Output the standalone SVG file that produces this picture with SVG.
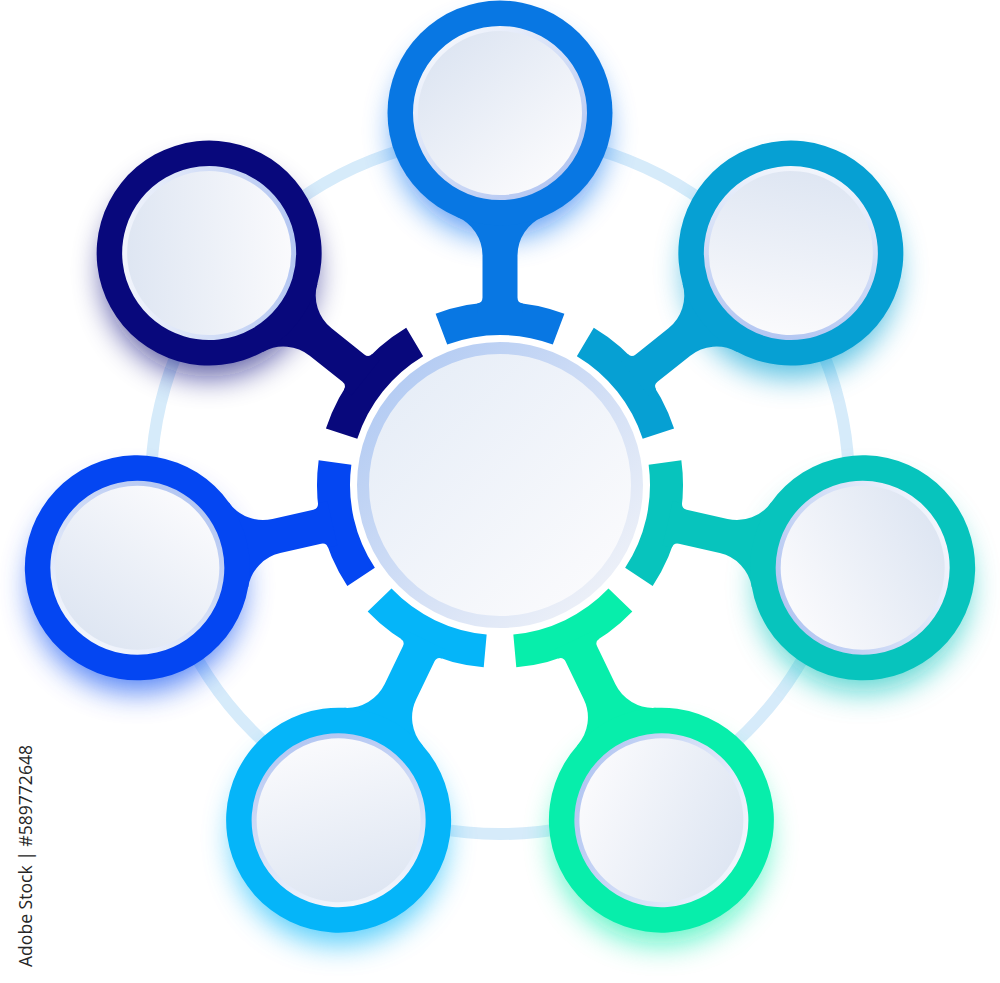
<svg xmlns="http://www.w3.org/2000/svg" xmlns:xlink="http://www.w3.org/1999/xlink" width="1000" height="983" viewBox="0 0 1000 983">
<style>
.glow{filter:url(#blur);opacity:.68}
.track{fill:none;stroke:#d6ebfa;stroke-width:12}
.face{fill:url(#inFill);stroke:url(#inStroke);stroke-width:5}
.label{font-family:"Open Sans","Noto Sans",sans-serif;font-size:19px;fill:#262626;stroke:#ffffff;stroke-width:3px;paint-order:stroke;stroke-linejoin:round}
</style>
<defs>
<filter id="blur" x="-60%" y="-60%" width="220%" height="220%"><feGaussianBlur stdDeviation="15"/></filter>
<linearGradient id="inFill" x1="0.15" y1="0.1" x2="0.85" y2="0.9"><stop offset="0" stop-color="#dde5f2"/><stop offset="1" stop-color="#fbfbfd"/></linearGradient>
<linearGradient id="inStroke" x1="0.15" y1="0.1" x2="0.85" y2="0.9"><stop offset="0" stop-color="#f3f6fc"/><stop offset="1" stop-color="#b3c6f2"/></linearGradient>
<linearGradient id="cRing" x1="0.1" y1="0.1" x2="0.9" y2="0.9"><stop offset="0" stop-color="#b3cbf3"/><stop offset="1" stop-color="#eef1f8"/></linearGradient>
<linearGradient id="cFill" x1="0.1" y1="0.1" x2="0.9" y2="0.9"><stop offset="0" stop-color="#e6edf7"/><stop offset="1" stop-color="#fbfbfd"/></linearGradient>
<g id="arm">
<path d="M -64.4,-171.3 A 183 183 0 0 1 64.4,-171.3 L 52.8,-140.4 A 150 150 0 0 0 -52.8,-140.4 Z"/>
<path d="M -22.75,-172 L -22.75,-181.55 A 6 6 0 0 0 -17.5,-187.5 L -17.5,-229.42 A 42 42 0 0 0 -43.33,-268.18 L -35,-300 L 35,-300 L 43.33,-268.18 A 42 42 0 0 0 17.5,-229.42 L 17.5,-187.5 A 6 6 0 0 0 22.75,-181.55 L 22.75,-172 Z"/>
<circle cx="0" cy="-372" r="112.5"/>
</g>
<circle id="face" class="face" cx="0" cy="-372" r="84.5"/>
</defs>
<rect width="1000" height="983" fill="#ffffff"/>
<circle class="track" cx="500" cy="485" r="349"/>
<g id="glows">
<circle class="glow" cx="500" cy="131" r="106" fill="#0a6ff0"/>
<circle class="glow" cx="209" cy="271" r="106" fill="#08087c"/>
<circle class="glow" cx="791" cy="271" r="106" fill="#06a0d3"/>
<circle class="glow" cx="137" cy="586" r="106" fill="#0446f2"/>
<circle class="glow" cx="863" cy="586" r="106" fill="#07c4bd"/>
<circle class="glow" cx="339" cy="838" r="106" fill="#05b5f9"/>
<circle class="glow" cx="661" cy="838" r="106" fill="#07eeab"/>
</g>
<g id="connectors">
<use xlink:href="#arm" fill="#0877e3" transform="translate(500 485) rotate(0)"/>
<use xlink:href="#arm" fill="#08087c" transform="translate(500 485) rotate(-51.43)"/>
<use xlink:href="#arm" fill="#06a0d3" transform="translate(500 485) rotate(51.43)"/>
<use xlink:href="#arm" fill="#0446f2" transform="translate(500 485) rotate(257.14)"/>
<use xlink:href="#arm" fill="#07c4bd" transform="translate(500 485) rotate(102.86)"/>
<use xlink:href="#arm" fill="#05b5f9" transform="translate(500 485) rotate(205.71)"/>
<use xlink:href="#arm" fill="#07eeab" transform="translate(500 485) rotate(154.29)"/>
</g>
<g id="node-1"><use xlink:href="#face" transform="translate(500 485) rotate(0)"/></g>
<g id="node-2"><use xlink:href="#face" transform="translate(500 485) rotate(-51.43)"/></g>
<g id="node-3"><use xlink:href="#face" transform="translate(500 485) rotate(51.43)"/></g>
<g id="node-4"><use xlink:href="#face" transform="translate(500 485) rotate(257.14)"/></g>
<g id="node-5"><use xlink:href="#face" transform="translate(500 485) rotate(102.86)"/></g>
<g id="node-6"><use xlink:href="#face" transform="translate(500 485) rotate(205.71)"/></g>
<g id="node-7"><use xlink:href="#face" transform="translate(500 485) rotate(154.29)"/></g>
<g id="center"><circle cx="500" cy="485" r="137" fill="url(#cFill)" stroke="url(#cRing)" stroke-width="12"/></g>
<text class="label" transform="translate(32 967) rotate(-90)" textLength="222" lengthAdjust="spacingAndGlyphs">Adobe Stock | #589772648</text>
</svg>
